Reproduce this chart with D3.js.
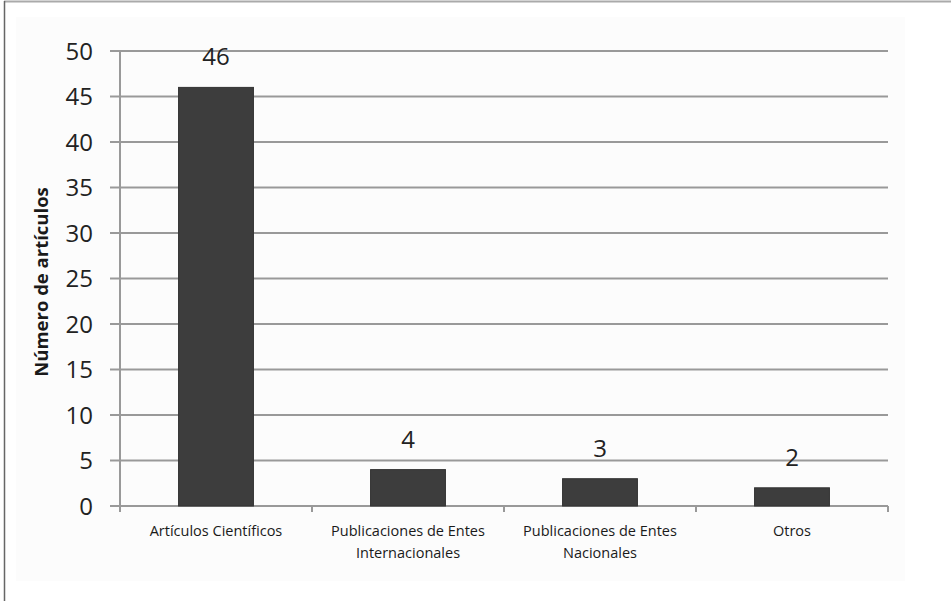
<!DOCTYPE html>
<html><head><meta charset="utf-8">
<script src="https://cdn.jsdelivr.net/npm/d3@7"></script>
<style>body{margin:0;background:#fff;}svg{display:block;}</style>
</head><body>
<svg id="c" width="951" height="601"></svg>
<script>
const categories = [["Artículos Científicos"], ["Publicaciones de Entes", "Internacionales"], ["Publicaciones de Entes", "Nacionales"], ["Otros"]];
const values = [46, 4, 3, 2];
const yTicks = [0, 5, 10, 15, 20, 25, 30, 35, 40, 45, 50];
const yTitle = "Número de artículos";

const svg = d3.select("#c");
const font = "'Open Sans', 'Liberation Sans', sans-serif";

// outer frame
svg.append("line").attr("x1", 4).attr("x2", 951).attr("y1", 1.5).attr("y2", 1.5).attr("stroke", "#aaa").attr("stroke-width", 2);
svg.append("line").attr("x1", 4.5).attr("x2", 4.5).attr("y1", 1).attr("y2", 601).attr("stroke", "#666").attr("stroke-width", 1.5);
// subtle panel
svg.append("rect").attr("x", 16).attr("y", 17).attr("width", 889).attr("height", 564).attr("fill", "#fcfcfc");

const L = 120, R = 888, T = 51, B = 506;
const x = d3.scaleBand().domain(d3.range(categories.length)).range([L, R]).paddingInner(0.61).paddingOuter(0.305);
const y = d3.scaleLinear().domain([0, 50]).range([B, T]);

// gridlines
svg.append("g").selectAll("line").data(yTicks).join("line")
  .attr("x1", L - 10).attr("x2", R).attr("y1", d => y(d)).attr("y2", d => y(d))
  .attr("stroke", "#999").attr("stroke-width", 2);

// y axis line
svg.append("line").attr("x1", L).attr("x2", L).attr("y1", T).attr("y2", B + 6).attr("stroke", "#999").attr("stroke-width", 2);

// y tick labels
svg.append("g").selectAll("text").data(yTicks).join("text")
  .attr("x", 93).attr("y", d => y(d)).attr("dy", "0.36em")
  .attr("text-anchor", "end").attr("font-family", font).attr("font-size", 24).attr("fill", "#222")
  .text(d => d);

// x category ticks
const bounds = d3.range(categories.length + 1).map(i => L + i * (R - L) / categories.length);
svg.append("g").selectAll("line").data(bounds).join("line")
  .attr("x1", d => d).attr("x2", d => d).attr("y1", B).attr("y2", B + 6)
  .attr("stroke", "#999").attr("stroke-width", 2);

// bars
svg.append("g").selectAll("rect").data(values).join("rect")
  .attr("x", (d, i) => x(i)).attr("width", x.bandwidth())
  .attr("y", d => y(d)).attr("height", d => y(0) - y(d))
  .attr("fill", "#3d3d3d").attr("stroke", "#333").attr("stroke-width", 1);

// value labels
svg.append("g").selectAll("text").data(values).join("text")
  .attr("x", (d, i) => x(i) + x.bandwidth() / 2).attr("y", d => y(d) - 22)
  .attr("text-anchor", "middle").attr("font-family", font).attr("font-size", 24).attr("fill", "#222")
  .text(d => d);

// category labels
const cl = svg.append("g").selectAll("text").data(categories).join("text")
  .attr("x", (d, i) => x(i) + x.bandwidth() / 2).attr("y", 536)
  .attr("text-anchor", "middle").attr("font-family", font).attr("font-size", 14.5).attr("fill", "#1a1a1a");
cl.selectAll("tspan").data(d => d).join("tspan")
  .attr("x", function() { return d3.select(this.parentNode).attr("x"); })
  .attr("dy", (d, i) => i === 0 ? 0 : 22).text(d => d);

// y title
svg.append("text").attr("transform", "translate(48,282) rotate(-90)")
  .attr("text-anchor", "middle").attr("font-family", font).attr("font-size", 18.5).attr("font-weight", "bold").attr("fill", "#1a1a1a")
  .text(yTitle);
</script>
</body></html>
